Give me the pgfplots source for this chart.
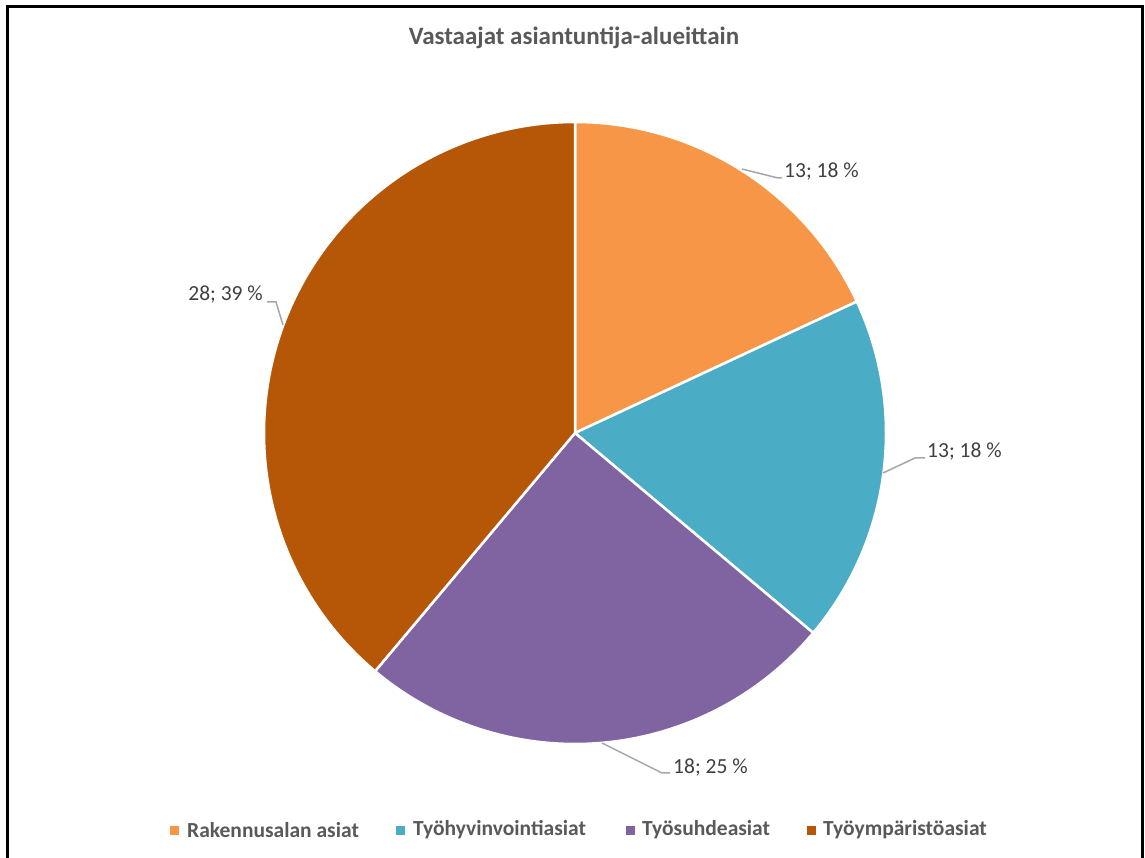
\documentclass[border=0pt]{standalone}
\usepackage{pgfplots}
\usepackage{pgfplotstable}
\pgfplotsset{compat=1.18}
\usepackage{fontspec}
\setmainfont{Carlito}
\definecolor{cA}{HTML}{F79646}
\definecolor{cB}{HTML}{4BACC6}
\definecolor{cC}{HTML}{8064A2}
\definecolor{cD}{HTML}{B65708}
\definecolor{lbl}{HTML}{404040}
\definecolor{ttl}{HTML}{595959}
\definecolor{lead}{HTML}{A6A6A6}
\pgfplotstableread{
name value
Rakennusalan 13
Tyohyvinvointi 13
Tyosuhde 18
Tyoymparisto 28
}\piedata
\begin{document}%
\begin{tikzpicture}
\pgfplotstablegetelem{0}{value}\of\piedata \let\vA\pgfplotsretval
\pgfplotstablegetelem{1}{value}\of\piedata \let\vB\pgfplotsretval
\pgfplotstablegetelem{2}{value}\of\piedata \let\vC\pgfplotsretval
\pgfplotstablegetelem{3}{value}\of\piedata \let\vD\pgfplotsretval
\pgfmathsetmacro\tot{\vA+\vB+\vC+\vD}
\pgfmathsetmacro\aA{90}
\pgfmathsetmacro\aB{\aA-360*\vA/\tot}
\pgfmathsetmacro\aC{\aB-360*\vB/\tot}
\pgfmathsetmacro\aD{\aC-360*\vC/\tot}
\pgfmathsetmacro\aE{\aD-360*\vD/\tot}
\def\cx{575}\def\cy{425}\def\R{311}
\begin{axis}[
  x=1pt, y=1pt, scale only axis,
  xmin=0, xmax=1145, ymin=0, ymax=858,
  hide axis, clip=false,
]
\coordinate (bl) at (axis cs:0,0);
\coordinate (tr) at (axis cs:1145,858);
\addplot[fill=cA, draw=white, line width=2.5pt, line join=round, domain=\aB:\aA, samples=120] ({\cx+\R*cos(x)},{\cy+\R*sin(x)}) -- (axis cs:\cx,\cy) -- cycle;
\addplot[fill=cB, draw=white, line width=2.5pt, line join=round, domain=\aC:\aB, samples=120] ({\cx+\R*cos(x)},{\cy+\R*sin(x)}) -- (axis cs:\cx,\cy) -- cycle;
\addplot[fill=cC, draw=white, line width=2.5pt, line join=round, domain=\aD:\aC, samples=120] ({\cx+\R*cos(x)},{\cy+\R*sin(x)}) -- (axis cs:\cx,\cy) -- cycle;
\addplot[fill=cD, draw=white, line width=2.5pt, line join=round, domain=\aE:\aD, samples=150] ({\cx+\R*cos(x)},{\cy+\R*sin(x)}) -- (axis cs:\cx,\cy) -- cycle;
% leader lines
\addplot[lead, line width=1.5pt, no markers] coordinates {(742,689) (778,680) (782,680)};
\addplot[lead, line width=1.5pt, no markers] coordinates {(883,385) (915,400) (925,400)};
\addplot[lead, line width=1.5pt, no markers] coordinates {(602,115) (662,85) (670,85)};
\addplot[lead, line width=1.5pt, no markers] coordinates {(283,533) (276,556) (267,556)};
% data labels
\node[anchor=west, text=lbl, font=\fontsize{21.5}{25}\selectfont, inner sep=0pt] at (axis cs:784,686) {13; 18~\%};
\node[anchor=west, text=lbl, font=\fontsize{21.5}{25}\selectfont, inner sep=0pt] at (axis cs:927,406) {13; 18~\%};
\node[anchor=west, text=lbl, font=\fontsize{21.5}{25}\selectfont, inner sep=0pt] at (axis cs:673,90) {18; 25~\%};
\node[anchor=east, text=lbl, font=\fontsize{21.5}{25}\selectfont, inner sep=0pt] at (axis cs:263,563) {28; 39~\%};
% title
\node[text=ttl, font=\fontsize{25}{30}\selectfont\bfseries, inner sep=0pt] at (axis cs:574,820) {Vastaajat asiantuntija-alueittain};
% legend
\addplot[only marks, mark=square*, mark size=4pt, cA, mark options={draw=cA}] coordinates {(174.5,28)};
\addplot[only marks, mark=square*, mark size=4pt, cB, mark options={draw=cB}] coordinates {(400.5,28)};
\addplot[only marks, mark=square*, mark size=4pt, cC, mark options={draw=cC}] coordinates {(630.5,28)};
\addplot[only marks, mark=square*, mark size=4pt, cD, mark options={draw=cD}] coordinates {(811.5,28)};
\node[anchor=west, text=ttl, font=\fontsize{21.5}{25}\selectfont\bfseries, inner sep=0pt] at (axis cs:187,28) {Rakennusalan asiat};
\node[anchor=west, text=ttl, font=\fontsize{21.5}{25}\selectfont\bfseries, inner sep=0pt] at (axis cs:413,28) {Työhyvinvointiasiat};
\node[anchor=west, text=ttl, font=\fontsize{21.5}{25}\selectfont\bfseries, inner sep=0pt] at (axis cs:642,28) {Työsuhdeasiat};
\node[anchor=west, text=ttl, font=\fontsize{21.5}{25}\selectfont\bfseries, inner sep=0pt] at (axis cs:823,28) {Työympäristöasiat};
% frame
\addplot[black, line width=2.5pt, no markers] coordinates {(7.5,0) (7.5,851.5) (1142.5,851.5) (1142.5,0)};
\end{axis}
\pgfresetboundingbox
\path[use as bounding box] (bl) rectangle (tr);
\end{tikzpicture}%
\end{document}
